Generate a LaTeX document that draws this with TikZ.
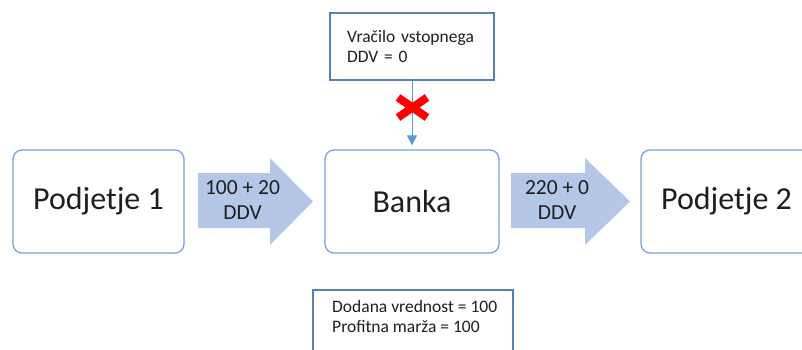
\documentclass[tikz,border=0pt]{standalone}
\usepackage{fontspec}
\setmainfont{Carlito}
\usepackage{tikz}
\usetikzlibrary{shapes,arrows.meta,positioning}

\definecolor{boxblue}{RGB}{122,162,214}
\definecolor{noteblue}{RGB}{88,128,178}
\definecolor{flowblue}{RGB}{180,199,231}
\definecolor{linkblue}{RGB}{91,155,213}
\definecolor{txt}{RGB}{30,30,30}

\begin{document}
\begin{tikzpicture}[x=1pt, y=-1pt]
		\tikzstyle{Firm}	= [rectangle, rounded corners=9pt, draw=boxblue, line width=1.3pt, minimum width=171pt, minimum height=103pt, text=txt, font=\fontsize{32}{38}\selectfont]
		\tikzstyle{Flow}	= [fill=flowblue]
		\tikzstyle{Amount}	= [align=center, text=txt, font=\fontsize{21.5}{25}\selectfont]
		\tikzstyle{Note}	= [draw=noteblue, line width=1.1pt]
		\tikzstyle{Small}	= [align=left, text=txt, inner sep=0pt, font=\fontsize{17.5}{20.5}\selectfont]
		\tikzstyle{Link}	= [linkblue, line width=1pt, -{Triangle[width=10pt, length=10pt]}, shorten >=4pt]
		\tikzstyle{Stop}	= [cross out, draw=red, line width=8pt, minimum width=21pt, minimum height=12pt, inner sep=0pt]

		\useasboundingbox (0,0) rectangle (802,349);
		\clip (0,0) rectangle (802,349);

		\node (p1) at (98.5, 201.5) [Firm] {Podjetje 1};
		\node (banka) at (412, 201.5) [Firm, minimum width=174pt] {Banka};
		\node (p2) at (726.5, 201.5) [Firm] {Podjetje 2};

		\fill [Flow] (198,173) -- (270,173) -- (270,158) -- (313,201.5) -- (270,245) -- (270,228) -- (198,228) -- cycle;
		\fill [Flow] (511,173) -- (585,173) -- (585,158) -- (630,201.5) -- (585,245) -- (585,228) -- (511,228) -- cycle;
		\node (a1) at (242.5, 200) [Amount] {100 + 20\\DDV};
		\node (a2) at (557, 200) [Amount] {220 + 0\\DDV};

		\node (refund) at (412, 46.5) [Note, Small, minimum width=164pt, minimum height=67pt, text width=130pt] {Vračilo vstopnega\\DDV = 0};
		\draw [-] (refund) to (banka) [Link];
		\node (stop) at (412.5, 107.5) [Stop] {};

		\draw [Note] (313,290) rectangle (513,372);
		\node (margin) at (332, 300) [Small, anchor=north west] {Dodana vrednost = 100\\Profitna marža = 100};
	\end{tikzpicture}
\end{document}
